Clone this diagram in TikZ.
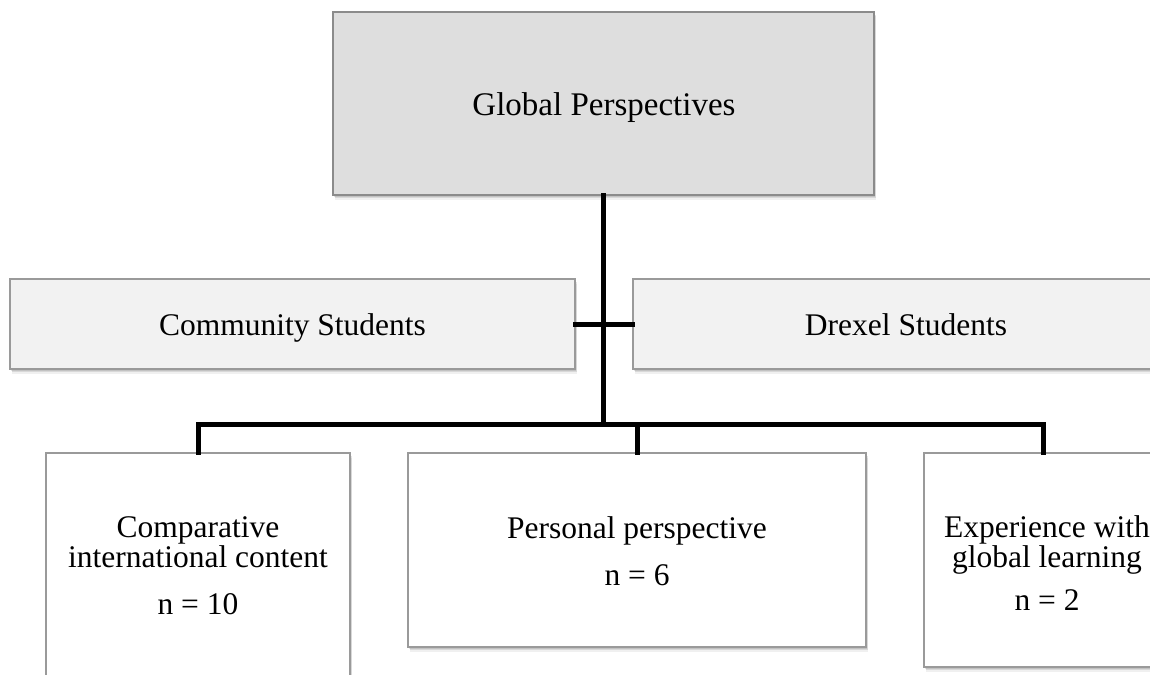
\documentclass[tikz,border=0pt]{standalone}
\usepackage{fontspec}
\setmainfont{Liberation Serif}
\usetikzlibrary{shadows}
\definecolor{boxedge}{HTML}{9A9A9A}
\definecolor{topfill}{HTML}{DEDEDE}
\definecolor{midfill}{HTML}{F2F2F2}
\begin{document}
\begin{tikzpicture}[x=1pt,y=-1pt,
  softshadow/.style={
    general shadow={fill=black,opacity=.10,shadow xshift=1pt,shadow yshift=-1.5pt},
    general shadow={fill=black,opacity=.10,shadow xshift=1.5pt,shadow yshift=-3pt},
    general shadow={fill=black,opacity=.06,shadow xshift=2pt,shadow yshift=-4.5pt}},
  box/.style={draw=boxedge,line width=1.3pt,softshadow},
  topbox/.style={box,fill=topfill,draw=boxedge!90!black},
  midbox/.style={box,fill=midfill},
  leafbox/.style={box,fill=white},
  txt/.style={inner sep=0pt,anchor=base,font=\fontsize{31.5}{30}\selectfont},
  titletxt/.style={txt,font=\fontsize{33}{33}\selectfont},
  link/.style={line width=5pt,line join=miter,line cap=rect}]
\useasboundingbox (0,0) rectangle (1150,674);

% boxes (corner to corner, in pixels from the top left)
\node[topbox,inner sep=0pt,minimum width=541pt,minimum height=183pt] (top) at (603.5,103.5) {};
\node[midbox,inner sep=0pt,minimum width=565pt,minimum height=90pt] (comm) at (292.5,324) {};
\node[midbox,inner sep=0pt,minimum width=547pt,minimum height=90pt] (drex) at (906.5,324) {};
\node[leafbox,inner sep=0pt,minimum width=304pt,minimum height=260pt] (cic) at (198,583) {};
\node[leafbox,inner sep=0pt,minimum width=458pt,minimum height=194pt] (pp) at (637,550) {};
\node[leafbox,inner sep=0pt,minimum width=238pt,minimum height=214pt] (exp) at (1043,560) {};

% connectors
\coordinate (bus) at (603.5,424);
\draw[link] (top.south) -- (bus);
\draw[link] (comm.east) -- (drex.west);
\draw[link] (cic.north) |- (bus) -| (exp.north);
\draw[link] (pp.north) |- (bus);

% labels
\node[titletxt] (toplbl) at (604,115) {Global Perspectives};
\node[txt] (commlbl) at (292.5,335) {Community Students};
\node[txt] (drexlbl) at (906,335) {Drexel Students};
\node[txt] (cic1) at (198,537) {Comparative};
\node[txt] (cic2) at (198,567) {international content};
\node[txt] (cicn) at (198,614) {n = 10};
\node[txt] (pp1) at (637,538) {Personal perspective};
\node[txt] (ppn) at (637,585) {n = 6};
\node[txt] (exp1) at (1047,537) {Experience with};
\node[txt] (exp2) at (1047,567) {global learning};
\node[txt] (expn) at (1047,610) {n = 2};
\end{tikzpicture}
\end{document}
